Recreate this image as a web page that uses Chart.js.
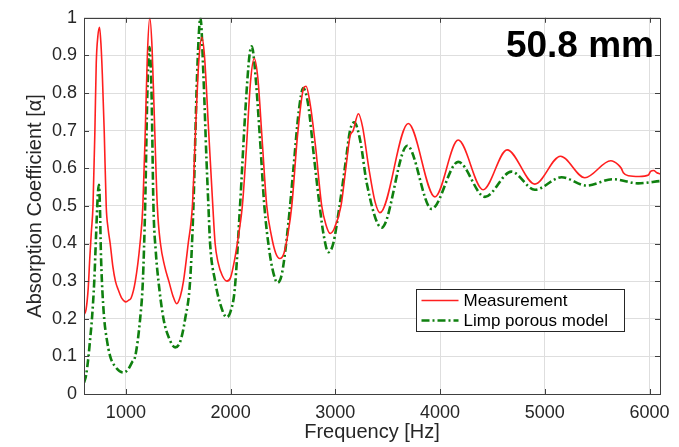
<!DOCTYPE html>
<html>
<head>
<meta charset="utf-8">
<script src="https://cdn.jsdelivr.net/npm/chart.js@4.4.1/dist/chart.umd.min.js"></script>
<style>
  html, body { margin: 0; padding: 0; background: #fff; }
  #wrap { width: 679px; height: 447px; }
</style>
</head>
<body>
<div id="wrap"><canvas id="chart"></canvas></div>
<script>
// Measurement (red solid)
const measFreq = [600, 620, 640, 655, 670, 686, 704, 717, 732, 748, 762, 775, 793, 812, 830, 850, 875, 900, 930, 960,
  1000, 1030, 1050, 1090, 1135, 1162, 1185, 1205, 1228, 1250, 1270, 1300, 1330, 1370, 1410, 1450, 1485, 1520, 1550, 1595,
  1635, 1665, 1695, 1725, 1750, 1790, 1830, 1852, 1880, 1920, 1965, 2000, 2040, 2080, 2112, 2150, 2190, 2225, 2260, 2300,
  2345, 2390, 2430, 2470, 2510, 2550, 2584, 2640, 2700, 2720, 2760, 2810, 2870, 2910, 2950, 2990, 3054, 3100, 3140, 3170,
  3220, 3260, 3320, 3380, 3426, 3696, 3951, 4173, 4411, 4640, 4905, 5150, 5382, 5630, 5700, 5730, 5750, 5800, 5900, 5990,
  6010, 6040, 6070, 6100];
const measAbs = [0.21, 0.225, 0.28, 0.36, 0.43, 0.5, 0.7, 0.88, 0.95, 0.975, 0.93, 0.85, 0.7, 0.5, 0.44, 0.4, 0.34, 0.3, 0.275, 0.255,
  0.245, 0.25, 0.255, 0.3, 0.4, 0.5, 0.7, 0.9, 1.0, 0.92, 0.75, 0.5, 0.4, 0.34, 0.3, 0.26, 0.24, 0.26, 0.3, 0.4,
  0.5, 0.7, 0.88, 0.948, 0.9, 0.7, 0.5, 0.4, 0.35, 0.315, 0.3, 0.31, 0.36, 0.43, 0.5, 0.65, 0.83, 0.892, 0.84, 0.68,
  0.5, 0.42, 0.375, 0.36, 0.375, 0.43, 0.5, 0.69, 0.815, 0.818, 0.77, 0.66, 0.5, 0.45, 0.427, 0.44, 0.5, 0.6, 0.685, 0.7,
  0.745, 0.71, 0.6, 0.51, 0.482, 0.719, 0.524, 0.675, 0.543, 0.649, 0.558, 0.632, 0.575, 0.62, 0.61, 0.6, 0.588, 0.58, 0.578, 0.582,
  0.592, 0.594, 0.588, 0.585];

// Limp porous model (green dash-dot)
const modelFreq = [600, 620, 643, 660, 676, 698, 715, 730, 742, 752, 761, 771, 793, 815, 850, 900, 977, 1020, 1060, 1089,
  1136, 1162, 1184, 1205, 1225, 1245, 1263, 1285, 1311, 1359, 1410, 1470, 1520, 1566, 1613, 1645, 1680, 1712, 1740, 1770,
  1788, 1804, 1852, 1900, 1963, 2000, 2040, 2090, 2140, 2180, 2202, 2230, 2280, 2322, 2370, 2410, 2447, 2490, 2550, 2600,
  2650, 2694, 2740, 2800, 2850, 2890, 2933, 2980, 3040, 3100, 3140, 3180, 3240, 3300, 3442, 3687, 3919, 4173, 4428, 4681,
  4905, 5160, 5398, 5652, 5890, 6100];
const modelAbs = [0.03, 0.05, 0.1, 0.15, 0.2, 0.3, 0.42, 0.52, 0.556, 0.5, 0.38, 0.3, 0.2, 0.15, 0.1, 0.072, 0.057, 0.065, 0.085, 0.1,
  0.2, 0.3, 0.5, 0.8, 0.922, 0.8, 0.5, 0.38, 0.3, 0.2, 0.15, 0.124, 0.14, 0.2, 0.3, 0.5, 0.85, 1.0, 0.85, 0.62,
  0.5, 0.4, 0.3, 0.24, 0.204, 0.22, 0.28, 0.5, 0.75, 0.9, 0.924, 0.87, 0.68, 0.5, 0.38, 0.32, 0.296, 0.32, 0.45, 0.6,
  0.75, 0.813, 0.77, 0.62, 0.5, 0.42, 0.377, 0.4, 0.5, 0.62, 0.7, 0.722, 0.67, 0.56, 0.442, 0.66, 0.492, 0.617, 0.524, 0.591,
  0.543, 0.576, 0.554, 0.571, 0.56, 0.566];

const xTicks = [1000, 2000, 3000, 4000, 5000, 6000];
const yTicks = [0, 0.1, 0.2, 0.3, 0.4, 0.5, 0.6, 0.7, 0.8, 0.9, 1];
const seriesNames = ['Measurement', 'Limp porous model'];
const thicknessLabel = '50.8 mm';

const FONT = '"Liberation Sans", Arial, Helvetica, sans-serif';
const INK = '#262626';

// box, inward ticks, legend and label, MATLAB-style
const decorPlugin = {
  id: 'decor',
  afterDatasetsDraw(chart) {
    const ctx = chart.ctx;
    const a = chart.chartArea;
    const xs = chart.scales.x, ys = chart.scales.y;
    ctx.save();
    ctx.strokeStyle = '#404040';
    ctx.lineWidth = 1;
    ctx.beginPath();
    xTicks.forEach(v => {
      const px = Math.round(xs.getPixelForValue(v)) + 0.5;
      ctx.moveTo(px, a.bottom); ctx.lineTo(px, a.bottom - 5);
      ctx.moveTo(px, a.top); ctx.lineTo(px, a.top + 5);
    });
    yTicks.forEach(v => {
      const py = Math.round(ys.getPixelForValue(v)) + 0.5;
      ctx.moveTo(a.left, py); ctx.lineTo(a.left + 5, py);
      ctx.moveTo(a.right, py); ctx.lineTo(a.right - 5, py);
    });
    ctx.stroke();
    ctx.strokeRect(Math.round(a.left) + 0.5, Math.round(a.top) + 0.5,
      Math.round(a.right - a.left), Math.round(a.bottom - a.top));

    // thickness label
    ctx.fillStyle = '#000';
    ctx.font = 'bold 37px ' + FONT;
    ctx.textAlign = 'right';
    ctx.textBaseline = 'alphabetic';
    ctx.fillText(thicknessLabel, 654, 57);

    // legend
    const lx = 416.5, ly = 289.5, lw = 208, lh = 42;
    ctx.fillStyle = '#fff';
    ctx.fillRect(lx, ly, lw, lh);
    ctx.strokeStyle = INK;
    ctx.lineWidth = 1;
    ctx.strokeRect(lx, ly, lw, lh);
    ctx.font = '17px ' + FONT;
    ctx.textAlign = 'left';
    ctx.textBaseline = 'middle';
    chart.data.datasets.forEach((ds, i) => {
      const y = ly + 11 + i * 20;
      ctx.strokeStyle = ds.borderColor;
      ctx.lineWidth = ds.borderWidth;
      ctx.setLineDash(ds.borderDash || []);
      ctx.beginPath();
      ctx.moveTo(lx + 5, y);
      ctx.lineTo(lx + 42, y);
      ctx.stroke();
      ctx.setLineDash([]);
      ctx.fillStyle = '#000';
      ctx.fillText(ds.label, lx + 47, y + 1);
    });
    ctx.restore();
  }
};

const ctx = document.getElementById('chart').getContext('2d');
new Chart(ctx, {
  type: 'line',
  data: {
    datasets: [{
      label: seriesNames[0],
      data: measFreq.map((f, i) => ({ x: f, y: measAbs[i] })),
      borderColor: '#ff1f1f',
      borderWidth: 1.6,
      pointRadius: 0,
      cubicInterpolationMode: 'monotone',
      fill: false
    }, {
      label: seriesNames[1],
      data: modelFreq.map((f, i) => ({ x: f, y: modelAbs[i] })),
      borderColor: '#0f800f',
      borderWidth: 2.6,
      borderDash: [8, 3, 2, 3],
      pointRadius: 0,
      cubicInterpolationMode: 'monotone',
      fill: false
    }]
  },
  options: {
    responsive: true,
    maintainAspectRatio: false,
    animation: false,
    devicePixelRatio: 1,
    layout: { padding: { left: 0, top: 12, right: 19, bottom: 0 } },
    plugins: {
      legend: { display: false },
      tooltip: { enabled: false }
    },
    scales: {
      x: {
        type: 'linear',
        min: 600,
        max: 6100,
        afterBuildTicks: s => { s.ticks = xTicks.map(v => ({ value: v })); },
        afterFit: s => { s.height = 53; },
        grid: { color: '#dedede', drawTicks: false },
        border: { display: false },
        ticks: {
          color: INK, font: { family: FONT, size: 18 }, padding: 8,
          maxRotation: 0, autoSkip: false,
          callback: v => String(v)
        },
        title: {
          display: true, text: 'Frequency [Hz]', color: INK,
          font: { family: FONT, size: 20 }, padding: { top: 0, bottom: 3 }
        }
      },
      y: {
        min: 0,
        max: 1,
        afterBuildTicks: s => { s.ticks = yTicks.map(v => ({ value: v })); },
        afterFit: s => { s.width = 84; },
        grid: { color: '#dedede', drawTicks: false },
        border: { display: false },
        ticks: {
          color: INK, font: { family: FONT, size: 18 }, padding: 7,
          autoSkip: false,
          callback: v => String(v)
        },
        title: {
          display: true, text: 'Absorption Coefficient [α]', color: INK,
          font: { family: FONT, size: 20 }, padding: { top: 23, bottom: 0 }
        }
      }
    }
  },
  plugins: [decorPlugin]
});
</script>
</body>
</html>
